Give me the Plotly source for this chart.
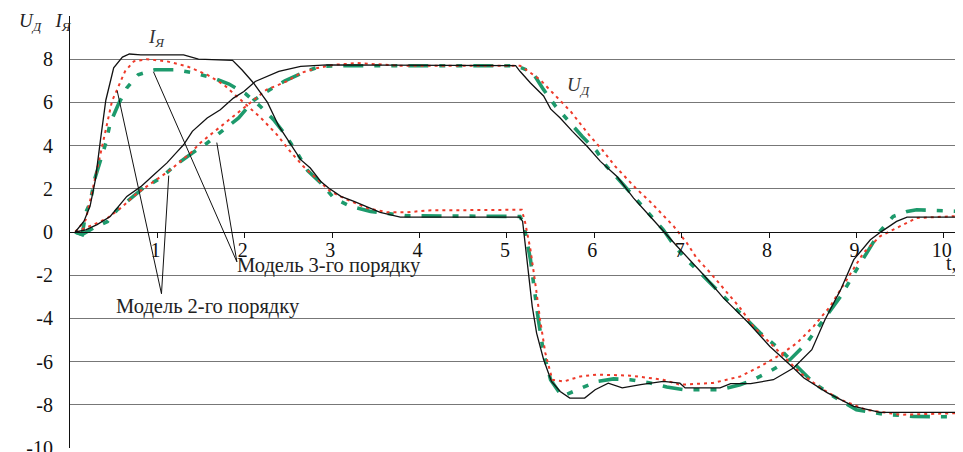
import plotly.graph_objects as go

# ---------------- data ----------------
# Experimental armature current I_Я (black)
t_I_exp = [0.06, 0.16, 0.23, 0.29, 0.35, 0.41, 0.50, 0.60, 0.68, 0.81, 1.30, 1.47, 1.86, 1.97, 2.10, 2.26, 2.39,
           2.54, 2.64, 2.75, 2.87, 2.96, 3.10, 3.25, 3.40, 3.55, 3.78, 5.15, 5.18, 5.21, 5.25, 5.29, 5.34, 5.42,
           5.51, 5.61, 5.72, 5.89, 6.01, 6.16, 6.32, 6.53, 6.79, 6.98, 7.04, 7.44, 7.56, 7.79, 8.05, 8.28, 8.49,
           8.64, 8.82, 8.97, 9.16, 9.29, 9.46, 9.58, 10.22]
v_I_exp = [0.0, 0.5, 1.2, 2.4, 4.3, 6.1, 7.6, 8.1, 8.24, 8.2, 8.2, 8.0, 7.95, 7.5, 6.9, 6.0, 4.9,
           4.0, 3.35, 2.96, 2.34, 2.04, 1.65, 1.42, 1.16, 0.91, 0.69, 0.69, 0.49, -0.67, -1.9, -3.44, -4.68, -5.9,
           -6.92, -7.38, -7.69, -7.69, -7.3, -7.0, -7.22, -7.07, -6.92, -7.0, -7.22, -7.22, -7.02, -7.02, -6.84,
           -6.3, -5.45, -4.06, -2.67, -1.28, -0.36, 0.03, 0.49, 0.69, 0.69]

# Experimental motor voltage U_Д (black)
t_U_exp = [0.06, 0.18, 0.31, 0.46, 0.65, 0.81, 0.96, 1.11, 1.23, 1.30, 1.40, 1.57, 1.72, 1.87, 1.99, 2.12, 2.39,
           2.64, 2.94, 5.10, 5.15, 5.27, 5.42, 5.50, 5.61, 5.75, 5.92, 6.07, 6.26, 6.45, 6.64, 6.79, 6.95, 7.25,
           7.48, 7.75, 8.01, 8.28, 8.40, 8.67, 8.97, 9.27, 10.22]
v_U_exp = [0.0, 0.1, 0.34, 0.72, 1.65, 2.1, 2.65, 3.2, 3.73, 4.04, 4.66, 5.28, 5.66, 6.2, 6.5, 6.97, 7.44,
           7.67, 7.74, 7.7, 7.44, 6.9, 6.3, 5.7, 5.28, 4.66, 3.96, 3.27, 2.57, 1.57, 0.72, 0.03, -0.67, -1.98,
           -3.06, -4.14, -5.3, -6.3, -6.76, -7.45, -8.07, -8.35, -8.35]

# 2nd-order model (red dotted)
t_I_m2 = [0.06, 0.18, 0.25, 0.33, 0.41, 0.48, 0.54, 0.63, 0.73, 0.88, 1.11, 1.34, 1.57, 1.76, 1.95, 2.18, 2.37,
          2.52, 2.67, 2.83, 2.98, 3.17, 3.40, 3.63, 3.86, 4.09, 5.17, 5.21, 5.27, 5.33, 5.38, 5.44, 5.52, 5.65,
          5.84, 6.03, 6.41, 6.79, 6.98, 7.36, 7.67, 7.90, 8.13, 8.32, 8.51, 8.70, 8.89, 9.08, 9.27, 9.46, 9.69,
          10.22]
v_I_m2 = [0.0, 0.57, 1.8, 3.35, 4.74, 6.05, 6.59, 7.44, 7.9, 8.0, 7.9, 7.67, 7.28, 6.82, 6.13, 5.3, 4.5,
          3.73, 3.04, 2.42, 1.88, 1.5, 1.11, 0.91, 0.91, 1.0, 1.03, 0.42, -0.82, -2.52, -4.06, -5.6, -6.84, -6.92,
          -6.69, -6.6, -6.65, -6.84, -7.07, -6.99, -6.69, -6.22, -5.68, -5.14, -4.37, -3.44, -2.21, -0.97, -0.2,
          0.19, 0.65, 0.75]
t_U_m2 = [0.06, 0.27, 0.43, 0.58, 0.77, 0.96, 1.15, 1.38, 1.49, 1.68, 1.87, 2.07, 2.25, 2.48, 2.64, 2.83, 3.02,
          3.29, 3.44, 3.78, 5.15, 5.19, 5.38, 5.63, 5.73, 5.94, 6.09, 6.24, 6.47, 6.64, 6.79, 6.91, 7.06, 7.17,
          7.33, 7.52, 7.67, 7.82, 8.01, 8.17, 8.36, 8.59, 8.82, 9.11, 9.50, 10.22]
v_U_m2 = [0.0, 0.34, 0.65, 1.11, 1.8, 2.34, 2.88, 3.66, 4.12, 4.74, 5.35, 5.97, 6.59, 6.97, 7.36, 7.59, 7.74,
          7.82, 7.78, 7.7, 7.7, 7.6, 7.05, 6.0, 5.58, 4.5, 3.81, 3.04, 2.05, 1.4, 0.75, 0.26, -0.51, -1.2,
          -1.9, -2.82, -3.52, -4.37, -5.14, -5.76, -6.53, -7.22, -7.76, -8.23, -8.46, -8.38]

# 3rd-order model (green dash-dot)
t_I_m3 = [0.06, 0.14, 0.18, 0.23, 0.28, 0.35, 0.41, 0.46, 0.56, 0.65, 0.78, 0.97, 1.21, 1.42, 1.64, 1.82, 2.01,
          2.18, 2.33, 2.45, 2.60, 2.72, 2.87, 3.02, 3.21, 3.44, 3.63, 3.86, 5.15, 5.19, 5.27, 5.31, 5.36, 5.42,
          5.50, 5.63, 5.80, 6.03, 6.22, 6.41, 6.64, 6.83, 7.02, 7.44, 7.67, 7.82, 8.01, 8.24, 8.43, 8.62, 8.82,
          9.00, 9.16, 9.27, 9.42, 9.58, 9.69, 10.22]
v_I_m3 = [0.0, -0.12, 0.9, 1.34, 2.42, 3.35, 4.12, 5.04, 5.97, 6.67, 7.28, 7.51, 7.51, 7.36, 7.13, 6.85, 6.4,
          5.81, 5.2, 4.58, 3.66, 2.84, 2.27, 1.57, 1.19, 0.95, 0.85, 0.75, 0.72, 0.41, -1.28, -2.52, -4.06, -5.6,
          -6.84, -7.61, -7.3, -6.92, -6.8, -6.84, -6.99, -7.18, -7.3, -7.3, -7.07, -6.84, -6.45, -5.91, -5.14,
          -4.06, -2.98, -1.75, -0.67, 0.03, 0.72, 0.95, 1.03, 0.95]
t_U_m3 = [0.06, 0.14, 0.27, 0.43, 0.54, 0.65, 0.84, 1.04, 1.19, 1.40, 1.57, 1.76, 1.93, 2.10, 2.25, 2.46, 2.70,
          2.87, 3.10, 5.10, 5.27, 5.31, 5.42, 5.56, 5.71, 5.86, 6.03, 6.14, 6.30, 6.45, 6.62, 6.79, 6.88, 7.02,
          7.25, 7.48, 7.67, 7.90, 8.13, 8.32, 8.51, 8.74, 9.00, 9.31, 9.65, 10.22]
v_U_m3 = [0.0, -0.12, 0.19, 0.49, 1.03, 1.42, 2.04, 2.5, 3.04, 3.66, 4.12, 4.74, 5.28, 6.09, 6.5, 7.0, 7.44,
          7.67, 7.7, 7.7, 7.44, 7.28, 6.59, 5.81, 5.12, 4.43, 3.73, 3.04, 2.34, 1.65, 0.88, 0.1, -0.43, -1.13,
          -2.05, -2.98, -3.75, -4.68, -5.45, -6.22, -6.99, -7.61, -8.23, -8.43, -8.54, -8.56]

x_ticks = [1, 2, 3, 4, 5, 6, 7, 8, 9, 10]
y_ticks = [-10, -8, -6, -4, -2, 0, 2, 4, 6, 8, 10]
y_ticktext = ["-10", "-8", "-6", "-4", "-2", "0", "2", "4", "6", "8", ""]

label_m2 = "Модель 2-го порядку"
label_m3 = "Модель 3-го порядку"
# leader lines: (apex point, target point on curve)
leaders_m2 = [((1.047, -2.86), (0.54, 6.54)), ((1.047, -2.86), (1.13, 2.61))]
leaders_m3 = [((1.91, -1.38), (0.955, 7.42)), ((1.91, -1.38), (1.68, 4.14))]

# ---------------- style ----------------
FONT = "'Liberation Serif', 'Times New Roman', 'DejaVu Serif', serif"
GREEN = "#1d9a6c"
RED = "#ee3a2a"
BLACK = "#111111"
green_dash = "20px,11px,6px,11px,6px,11px"
red_dash = "3px,4px"

fig = go.Figure()
for t, v in [(t_I_m3, v_I_m3), (t_U_m3, v_U_m3)]:
    fig.add_trace(go.Scatter(x=t, y=v, mode="lines",
                             line=dict(color=GREEN, width=3.6, dash=green_dash), hoverinfo="skip"))
for t, v in [(t_I_m2, v_I_m2), (t_U_m2, v_U_m2)]:
    fig.add_trace(go.Scatter(x=t, y=v, mode="lines",
                             line=dict(color=RED, width=2, dash=red_dash), hoverinfo="skip"))
for t, v in [(t_I_exp, v_I_exp), (t_U_exp, v_U_exp)]:
    fig.add_trace(go.Scatter(x=t, y=v, mode="lines",
                             line=dict(color=BLACK, width=1.3), hoverinfo="skip"))

# page body has an 8px margin: the figure is shrunk and offset so the final picture lines up
OFF = 8
W, H = 963 - OFF, 452 - OFF
ML, MR, MT, MB = 12 - OFF, 0, 16 - OFF, 4
plot_w = W - ML - MR
x_left = (70 - 12) / plot_w

shapes = []
for apex, tgt in leaders_m2 + leaders_m3:
    shapes.append(dict(type="line", xref="x", yref="y", x0=apex[0], y0=apex[1], x1=tgt[0], y1=tgt[1],
                       line=dict(color=BLACK, width=1)))

NB = "\u00a0"
annotations = [
    dict(x=1.585, y=-3.45, xref="x", yref="y", text=label_m2, showarrow=False, xanchor="center",
         font=dict(family=FONT, size=20.5, color="#222")),
    dict(x=2.96, y=-1.56, xref="x", yref="y", text=label_m3, showarrow=False, xanchor="center",
         font=dict(family=FONT, size=20.5, color="#222")),
    dict(x=0.99, y=9.0, xref="x", yref="y", text="<i>I</i><sub><i>Я</i></sub>", showarrow=False,
         xanchor="center", font=dict(family=FONT, size=19, color="#333")),
    dict(x=5.82, y=6.75, xref="x", yref="y", text="<i>U</i><sub><i>Д</i></sub>", showarrow=False,
         xanchor="center", font=dict(family=FONT, size=19, color="#333")),
    dict(x=(17 - 12) / plot_w, y=9.72, xref="paper", yref="y", xanchor="left",
         text="<i>U</i><sub><i>Д</i></sub>" + NB * 3 + "<i>I</i><sub><i>Я</i></sub>", showarrow=False,
         font=dict(family=FONT, size=19, color="#222")),
    dict(x=10.0, y=-1.42, xref="x", yref="y", text="t, с", showarrow=False, xanchor="left",
         font=dict(family=FONT, size=20, color="#222")),
]

fig.update_layout(
    width=W, height=H,
    margin=dict(l=ML, r=MR, t=MT, b=MB, pad=0, autoexpand=False),
    paper_bgcolor="white", plot_bgcolor="white",
    showlegend=False,
    font=dict(family=FONT, size=19, color="#111"),
    xaxis=dict(domain=[x_left, 1], range=[0, 10.22], anchor="free", position=0.5, automargin=False,
               showline=True, linecolor=BLACK, linewidth=1.2, ticks="outside", ticklen=5,
               tickcolor=BLACK, tickvals=x_ticks, showgrid=False, zeroline=False,
               ticklabeloverflow="allow", ticklabelstandoff=-5, ticklabelshift=-2,
               tickfont=dict(family=FONT, size=20, color="#111")),
    yaxis=dict(domain=[0, 1], range=[-10, 10], anchor="x", tickvals=y_ticks, ticktext=y_ticktext,
               automargin=False,
               showgrid=True, gridcolor="#777777", gridwidth=1.3, zeroline=False,
               showline=True, linecolor=BLACK, linewidth=1.2, ticks="", ticklabelstandoff=12,
               ticklabeloverflow="allow",
               tickfont=dict(family=FONT, size=20, color="#111")),
    yaxis2=dict(overlaying="y", anchor="free", position=0, range=[-10, 10], tickvals=y_ticks,
                automargin=False,
                showline=True, linecolor=BLACK, linewidth=1.5, ticks="inside", ticklen=6,
                tickcolor=BLACK, showticklabels=False, showgrid=False, zeroline=False),
    shapes=shapes,
    annotations=annotations,
)

fig.write_html("out.html")
